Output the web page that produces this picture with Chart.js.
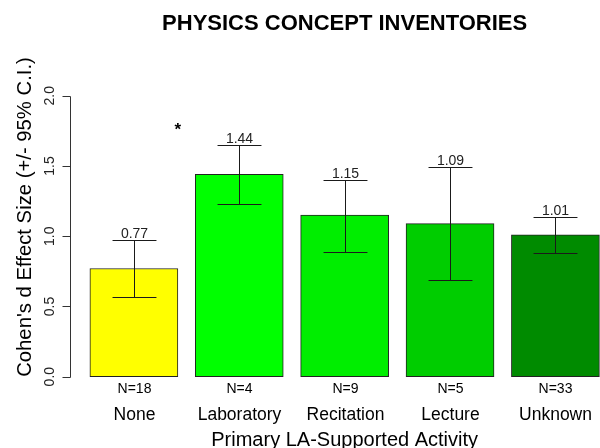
<!DOCTYPE html>
<html>
<head>
<meta charset="utf-8">
<script src="https://cdn.jsdelivr.net/npm/chart.js@4"></script>
<style>
  html, body { margin: 0; padding: 0; background: #fff; }
  #wrap { width: 600px; height: 448px; overflow: hidden; position: relative; }
  canvas { position: absolute; left: 0; top: 0; }
</style>
</head>
<body>
<div id="wrap"><canvas id="c" width="640" height="448"></canvas></div>
<script>
// ---- data ----
const categories = ['None', 'Laboratory', 'Recitation', 'Lecture', 'Unknown'];
const effectSizes = [0.77, 1.44, 1.15, 1.09, 1.01];
const ciLower = [0.57, 1.23, 0.89, 0.69, 0.88];
const ciUpper = [0.97, 1.65, 1.40, 1.49, 1.14];
const sampleSizes = ['N=18', 'N=4', 'N=9', 'N=5', 'N=33'];
const barColors = ['#FFFF00', '#00FF00', '#00EE00', '#00CD00', '#008B00'];
const yTicks = [0.0, 0.5, 1.0, 1.5, 2.0];
const yTickLabels = ['0.0', '0.5', '1.0', '1.5', '2.0'];
const barCenters = [0.7, 1.9, 3.1, 4.3, 5.5];
const starMark = { x: 1.2, y: 1.79, text: '*' };
const titleText = 'PHYSICS CONCEPT INVENTORIES';
const xTitle = 'Primary LA-Supported Activity';
const yTitle = "Cohen's d Effect Size (+/- 95% C.I.)";

const FONT = 'Liberation Sans, Arial, Helvetica, sans-serif';

const overlay = {
  id: 'overlay',
  afterDatasetsDraw(chart) {
    const ctx = chart.ctx;
    const xs = chart.scales.x, ys = chart.scales.y;
    const area = chart.chartArea;
    const midX = (area.left + area.right) / 2;
    ctx.save();
    // error bars
    ctx.strokeStyle = '#1a1a1a';
    ctx.lineWidth = 1;
    for (let i = 0; i < categories.length; i++) {
      const cx = Math.round(xs.getPixelForValue(barCenters[i])) + 0.5;
      const half = xs.getPixelForValue(barCenters[i] + 0.25) - xs.getPixelForValue(barCenters[i]);
      const yl = Math.round(ys.getPixelForValue(ciLower[i])) + 0.5;
      const yu = Math.round(ys.getPixelForValue(ciUpper[i])) + 0.5;
      ctx.beginPath();
      ctx.moveTo(cx, yl); ctx.lineTo(cx, yu);
      ctx.moveTo(cx - half, yl); ctx.lineTo(cx + half, yl);
      ctx.moveTo(cx - half, yu); ctx.lineTo(cx + half, yu);
      ctx.stroke();
      // value label
      ctx.fillStyle = '#222';
      ctx.font = '14px ' + FONT;
      ctx.textAlign = 'center';
      ctx.textBaseline = 'alphabetic';
      ctx.fillText(effectSizes[i].toFixed(2), cx, yu - 2.5);
      // N labels
      ctx.fillStyle = '#000';
      ctx.font = '14px ' + FONT;
      ctx.fillText(sampleSizes[i], cx, 392.7);
      // category labels
      ctx.font = '17.5px ' + FONT;
      ctx.fillText(categories[i], cx, 419.5);
    }
    // star
    ctx.font = 'bold 17px ' + FONT;
    ctx.fillStyle = '#000';
    ctx.textAlign = 'center';
    ctx.fillText(starMark.text, xs.getPixelForValue(starMark.x), ys.getPixelForValue(starMark.y) + 10);
    // y axis
    const ax = Math.round(area.left) + 0.5;
    ctx.strokeStyle = '#333';
    ctx.beginPath();
    ctx.moveTo(ax, Math.round(ys.getPixelForValue(yTicks[0])) + 0.5);
    ctx.lineTo(ax, Math.round(ys.getPixelForValue(yTicks[yTicks.length - 1])) + 0.5);
    for (let t = 0; t < yTicks.length; t++) {
      const ty = Math.round(ys.getPixelForValue(yTicks[t])) + 0.5;
      ctx.moveTo(ax, ty); ctx.lineTo(ax - 8, ty);
    }
    ctx.stroke();
    ctx.fillStyle = '#222';
    ctx.font = '14px ' + FONT;
    for (let t = 0; t < yTicks.length; t++) {
      const ty = ys.getPixelForValue(yTicks[t]);
      ctx.save();
      ctx.translate(54, ty);
      ctx.rotate(-Math.PI / 2);
      ctx.textAlign = 'center';
      ctx.textBaseline = 'alphabetic';
      ctx.fillText(yTickLabels[t], 0, 0);
      ctx.restore();
    }
    // y title
    ctx.save();
    ctx.translate(31, 217);
    ctx.rotate(-Math.PI / 2);
    ctx.font = '20.3px ' + FONT;
    ctx.fillStyle = '#000';
    ctx.textAlign = 'center';
    ctx.fillText(yTitle, 0, 0);
    ctx.restore();
    // x title
    ctx.font = '20px ' + FONT;
    ctx.fillStyle = '#000';
    ctx.textAlign = 'center';
    ctx.fillText(xTitle, midX, 446);
    // main title
    ctx.font = 'bold 22px ' + FONT;
    ctx.fillText(titleText, midX, 30);
    ctx.restore();
  }
};

new Chart(document.getElementById('c'), {
  type: 'bar',
  data: {
    datasets: [{
      data: categories.map((c, i) => ({ x: barCenters[i], y: effectSizes[i] })),
      backgroundColor: barColors,
      borderColor: '#222',
      borderWidth: 1,
      borderSkipped: false,
      barThickness: 88
    }]
  },
  options: {
    responsive: false,
    devicePixelRatio: 1,
    animation: false,
    layout: { padding: { left: 69.6, right: 20.3, top: 84.5, bottom: 60.1 } },
    plugins: { legend: { display: false }, tooltip: { enabled: false }, title: { display: false } },
    scales: {
      x: { type: 'linear', min: -0.032, max: 6.232, offset: false, display: false },
      y: { type: 'linear', min: -0.08, max: 2.08, display: false }
    }
  },
  plugins: [overlay]
});
</script>
</body>
</html>
